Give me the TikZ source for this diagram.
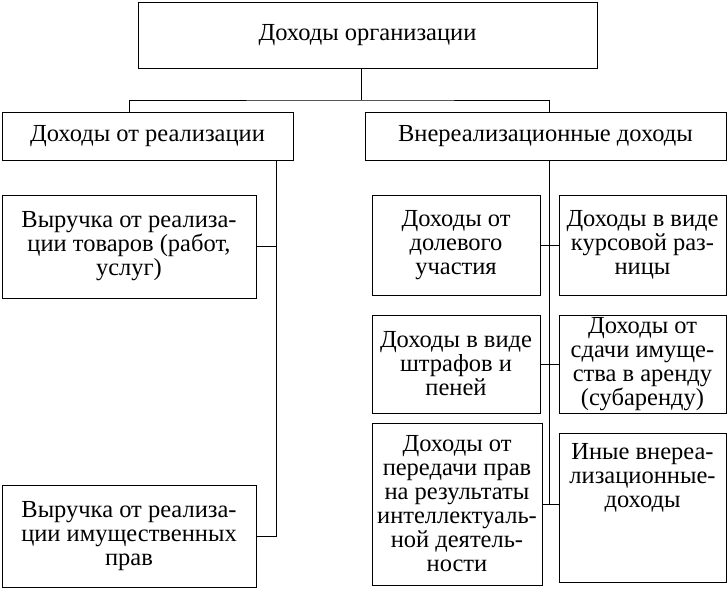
\documentclass[tikz,border=0pt]{standalone}
\usepackage{fontspec}
\setmainfont{Liberation Serif}
\usepackage{xcolor}
\usetikzlibrary{positioning}

\begin{document}
\begin{tikzpicture}[x=1pt,y=-1pt]
	\tikzstyle{B}=[rectangle,draw,line width=0.9pt,align=center,inner sep=0pt,font=\fontsize{24.5}{24}\selectfont]
	\tikzstyle{T}=[align=center,inner sep=0pt,font=\fontsize{24.5}{24}\selectfont]
	\tikzstyle{C}=[line width=0.8pt]

	\useasboundingbox (0,0) rectangle (728,590);

	\node [B,minimum width=459,minimum height=66] (top) at (367.5,35) {Доходы организации};

	\node [B,minimum width=291,minimum height=48] (real) at (147.5,136) {Доходы от реализации};
	\node [B,minimum width=361,minimum height=48] (vnereal) at (545.5,136) {Внереализационные доходы};

	\node [B,minimum width=254,minimum height=103] (v1) at (129,246.5) {Выручка от реализа-\\ции товаров (работ,\\услуг)};
	\node [B,minimum width=254,minimum height=102] (v2) at (129,536) {Выручка от реализа-\\ции имущественных\\прав};

	\node [B,minimum width=168,minimum height=100] (dol) at (456,245) {Доходы от\\долевого\\участия};
	\node [B,minimum width=167,minimum height=100] (kurs) at (642.5,245) {Доходы в виде\\курсовой раз-\\ницы};
	\node [B,minimum width=168,minimum height=98] (shtr) at (456,364) {Доходы в виде\\штрафов и\\пеней};
	\node [B,minimum width=167,minimum height=98] (arend) at (642.5,364) {Доходы от\\сдачи имуще-\\ства в аренду\\(субаренду)};
	\node [B,minimum width=170,minimum height=162] (prav) at (457,504) {Доходы от\\передачи прав\\на результаты\\интеллектуаль-\\ной деятель-\\ности};
	\node [B,minimum width=167,minimum height=149] (inye) at (642.5,507.5) {};
	\node [T,below=11pt of inye.north] (inyetxt) {Иные внереа-\\лизационные-\\доходы};

	% connections
	\coordinate (j) at (361,100);
	\coordinate (lt) at ([xshift=-17pt]real.south east);
	\coordinate (rt) at ([xshift=4pt]vnereal.south);

	\draw [C] (j |- top.south) -- (j);
	\draw [C] ([xshift=-18pt]real.north) |- (j) -| (rt |- vnereal.north);

	\draw [C] (lt) |- (v2.east);
	\draw [C] (v1.east) -- (v1.east -| lt);

	\draw [C] (rt) -- (rt |- prav.east);
	\draw [C] (dol.east) -- (dol.east -| kurs.west);
	\draw [C] (shtr.east) -- (shtr.east -| arend.west);
	\draw [C] (prav.east) -- (prav.east -| inye.west);
\end{tikzpicture}
\end{document}
